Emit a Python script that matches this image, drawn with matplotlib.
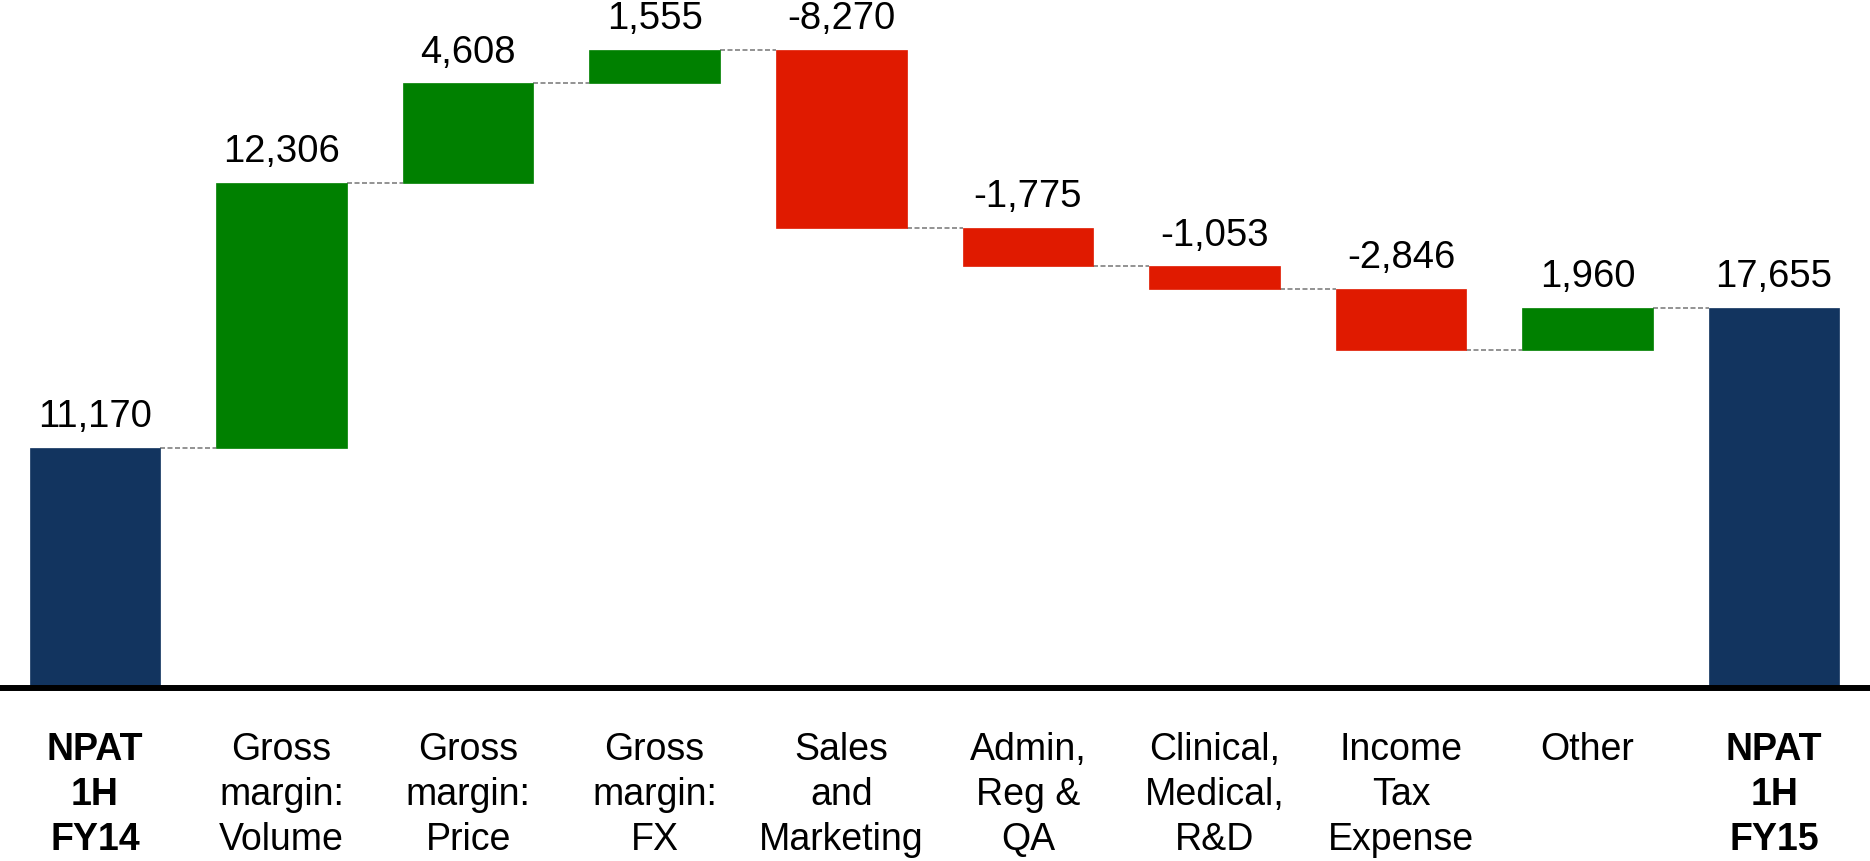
import matplotlib.pyplot as plt
import numpy as np

plt.rcParams['font.family'] = ['Liberation Sans', 'DejaVu Sans']

# data
categories = ['NPAT\n1H\nFY14', 'Gross\nmargin:\nVolume', 'Gross\nmargin:\nPrice',
              'Gross\nmargin:\nFX', 'Sales\nand\nMarketing', 'Admin,\nReg &\nQA',
              'Clinical,\nMedical,\nR&D', 'Income\nTax\nExpense', 'Other', 'NPAT\n1H\nFY15']
start_value = 11170
changes = [12306, 4608, 1555, -8270, -1775, -1053, -2846, 1960]
end_value = 17655
is_total = [True, False, False, False, False, False, False, False, False, True]

navy = '#12345f'
green = '#008000'
red = '#e01a00'

# build bottoms/heights
values = [start_value] + changes + [end_value]
bottoms, heights, colors, tops = [], [], [], []
running = 0
for i, v in enumerate(values):
    if is_total[i]:
        bottoms.append(0)
        heights.append(v)
        colors.append(navy)
        running = v
    else:
        new = running + v
        bottoms.append(min(running, new))
        heights.append(abs(v))
        colors.append(green if v > 0 else red)
        running = new
    tops.append(bottoms[-1] + heights[-1])

fig = plt.figure(figsize=[18.7, 8.61], dpi=100)
ax = fig.add_axes([0, 0.2009, 1, 0.7991])

x = np.arange(len(values))
width = 0.70
ax.bar(x, heights, bottom=bottoms, width=width, color=colors, edgecolor=colors,
       linewidth=0.5, zorder=2)

# connectors
running = 0
levels = []
for i, v in enumerate(values):
    running = v if is_total[i] else running + v
    levels.append(running)
for i in range(len(values) - 1):
    ax.plot([x[i] + width / 2, x[i + 1] - width / 2], [levels[i], levels[i]],
            color='#808080', lw=1.2, ls=(0, (3, 1.5)), zorder=1)

# value labels
for i, v in enumerate(values):
    ax.annotate(f'{v:,}', (x[i], tops[i]), xytext=(0, 9), textcoords='offset points',
                ha='center', va='bottom', fontsize=27.5)

# category labels
for i, c in enumerate(categories):
    ax.annotate(c, (x[i], 0), xytext=(0, -32), textcoords='offset points',
                ha='center', va='top', fontsize=27, linespacing=1.31,
                fontweight='bold' if is_total[i] else 'normal', annotation_clip=False)

ax.axhline(0, color='black', lw=4.3, zorder=3, clip_on=False)
ax.set_xlim(-0.509, 9.514)
ax.set_ylim(0, 31955)
ax.axis('off')

fig.savefig('out.png', dpi=100)
